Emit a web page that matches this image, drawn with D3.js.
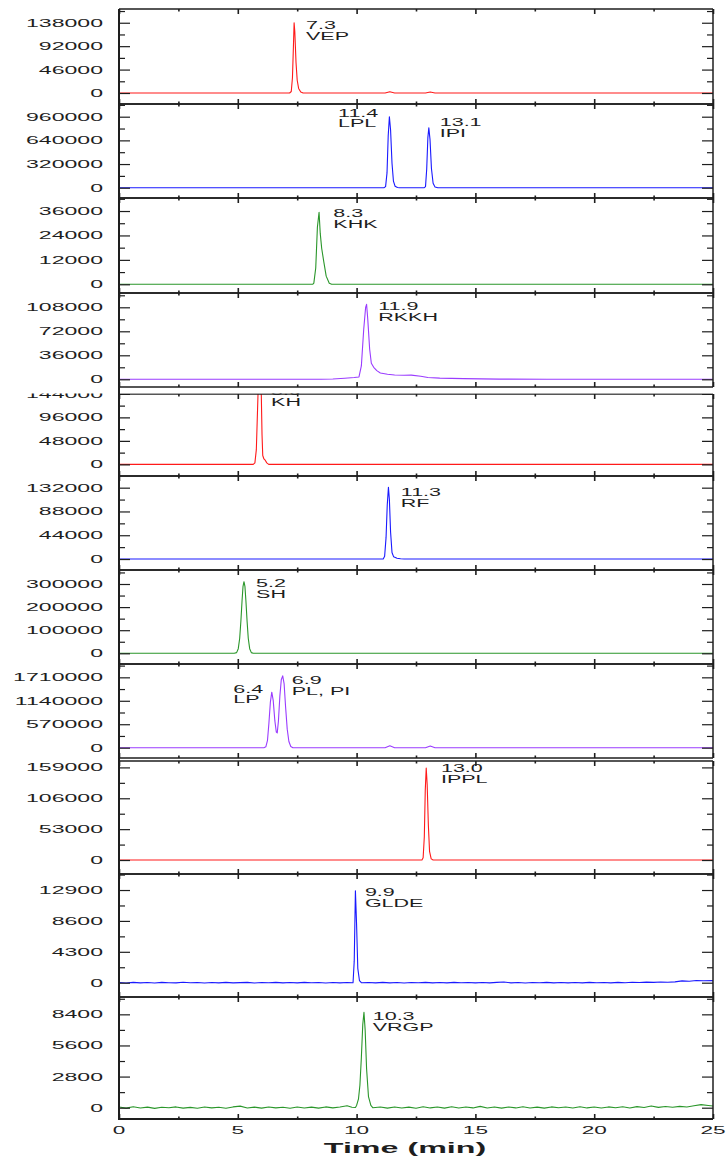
<!DOCTYPE html>
<html>
<head>
<meta charset="utf-8">
<script src="https://cdn.jsdelivr.net/npm/d3@7/dist/d3.min.js"></script>
<style>
  html, body { margin: 0; padding: 0; background: #fff; }
  svg { display: block; }
</style>
</head>
<body>
<svg id="chart" width="728" height="1160"></svg>
<script>
// ---------------- DATA ----------------
const xTicks = [0, 5, 10, 15, 20, 25];
const xMinorTicks = [2.5, 7.5, 12.5, 17.5, 22.5];
const xTitle = "Time (min)";

const seriesColors = ["#ff1a1a", "#1a1aff", "#2a962a", "#9a3cff", "#ff1a1a", "#1a1aff",
                      "#2a962a", "#9a3cff", "#ff1a1a", "#1a1aff", "#2a962a"];

const yDomains = [
  [-21600, 165000], [-139000, 1131700], [-4280, 42400], [-11550, 129450],
  [-23900, 144000], [-20300, 153600], [-46300, 360600], [-250900, 2034000],
  [-24000, 170000], [-1990, 15130], [-1017, 9960]
];

const yTickLabels = [
  [0, 46000, 92000, 138000],
  [0, 320000, 640000, 960000],
  [0, 12000, 24000, 36000],
  [0, 36000, 72000, 108000],
  [0, 48000, 96000, 144000],
  [0, 44000, 88000, 132000],
  [0, 100000, 200000, 300000],
  [0, 570000, 1140000, 1710000],
  [0, 53000, 106000, 159000],
  [0, 4300, 8600, 12900],
  [0, 2800, 5600, 8400]
];

// traces: [time (min), intensity]
const traceVEP = [[0,0],[7.18,0],[7.25,3000],[7.3,30000],[7.34,90000],[7.37,138000],[7.4,120000],
  [7.45,60000],[7.5,25000],[7.56,9000],[7.65,2000],[7.75,0],[11.2,0],[11.4,2500],[11.6,0],
  [12.9,0],[13.1,2000],[13.3,0],[25,0]];

const traceLPL = [[0,0],[11.15,0],[11.22,15000],[11.28,200000],[11.33,700000],[11.38,960000],
  [11.43,780000],[11.49,330000],[11.55,90000],[11.62,20000],[11.72,3000],[11.8,0],[12.85,0],
  [12.9,15000],[12.95,250000],[13.0,680000],[13.04,811000],[13.09,650000],[13.15,260000],
  [13.22,60000],[13.3,10000],[13.42,0],[25,0]];

const traceKHK = [[0,0],[8.15,0],[8.2,600],[8.28,8000],[8.35,28000],[8.42,35400],[8.47,25000],
  [8.53,17700],[8.62,11000],[8.72,4000],[8.85,500],[8.95,0],[25,0]];

const traceRKKH = [[0,0],[8.5,0],[9.0,500],[9.5,1500],[9.9,2600],[10.1,3500],[10.2,20000],
  [10.3,75000],[10.38,108000],[10.42,112500],[10.47,90000],[10.55,45000],[10.62,24000],
  [10.72,18000],[10.85,13000],[11.0,9500],[11.3,7500],[11.6,6400],[12.0,6000],[12.3,6200],
  [12.7,4500],[13.0,2600],[13.5,1800],[14.5,1000],[16,300],[18,0],[25,0]];

const traceKH = [[0,0],[5.65,0],[5.72,3000],[5.78,30000],[5.83,110000],[5.87,175000],[5.9,180000],
  [5.94,178000],[5.97,160000],[5.99,140000],[6.02,60000],[6.05,18000],[6.1,11000],[6.16,8000],
  [6.22,3000],[6.3,0],[25,0]];

const traceRF = [[0,0],[11.12,0],[11.18,5000],[11.24,40000],[11.29,100000],[11.34,132500],
  [11.38,110000],[11.43,50000],[11.49,12000],[11.56,4000],[11.7,1500],[11.85,500],[12,0],[25,0]];

const traceSH = [[0,0],[4.85,0],[4.95,3000],[5.02,20000],[5.08,65000],[5.13,140000],[5.18,230000],
  [5.22,290000],[5.26,310000],[5.3,290000],[5.34,230000],[5.39,140000],[5.44,65000],[5.5,20000],
  [5.57,3000],[5.65,0],[25,0]];

const traceLP = [[0,0],[6.1,0],[6.18,20000],[6.25,180000],[6.31,600000],[6.37,1100000],
  [6.43,1349000],[6.49,1150000],[6.56,650000],[6.62,380000],[6.66,360000],[6.71,650000],
  [6.77,1250000],[6.83,1650000],[6.89,1746000],[6.95,1550000],[7.01,1000000],[7.08,450000],
  [7.15,150000],[7.23,30000],[7.32,0],[11.2,0],[11.4,45000],[11.6,0],[12.9,0],[13.1,40000],
  [13.3,0],[25,0]];

const traceIPPL = [[0,0],[12.75,0],[12.8,4000],[12.85,40000],[12.89,120000],[12.93,158000],
  [12.97,130000],[13.02,60000],[13.07,15000],[13.14,2000],[13.22,0],[25,0]];

const traceGLDE = [[0,20],[0.3,-40],[0.6,50],[0.9,-20],[1.2,30],[1.5,-50],[1.8,40],[2.1,0],
  [2.4,-30],[2.7,60],[3.0,-10],[3.3,30],[3.6,-40],[3.9,20],[4.2,-20],[4.5,40],[4.8,-30],[5.1,10],
  [5.4,50],[5.7,-40],[6.0,20],[6.3,-10],[6.6,40],[6.9,-30],[7.2,30],[7.5,-20],[7.8,40],[8.1,-10],
  [8.4,30],[8.7,-40],[9.0,20],[9.3,-20],[9.6,30],[9.85,0],[9.9,3000],[9.95,12800],[10.0,8000],
  [10.05,2000],[10.12,300],[10.2,0],[10.5,30],[10.8,-30],[11.1,40],[11.4,-20],[11.7,20],
  [12.0,-40],[12.3,30],[12.6,-10],[12.9,50],[13.2,-20],[13.5,20],[13.8,-30],[14.1,40],[14.4,0],
  [14.7,30],[15.0,-30],[15.3,20],[15.6,-20],[15.9,40],[16.2,90],[16.5,-20],[16.8,30],[17.1,-40],
  [17.4,20],[17.7,-10],[18.0,40],[18.3,-30],[18.6,20],[18.9,-20],[19.2,30],[19.5,-30],[19.8,40],
  [20.1,-10],[20.4,30],[20.7,-20],[21.0,40],[21.3,0],[21.6,60],[21.9,20],[22.2,80],[22.5,40],
  [22.8,90],[23.1,60],[23.4,110],[23.7,260],[24.0,210],[24.3,310],[24.6,270],[25,290]];

const traceVRGP = [[0,60],[0.3,-40],[0.6,80],[0.9,-30],[1.2,50],[1.5,-60],[1.8,40],[2.1,-10],
  [2.4,70],[2.7,-40],[3.0,30],[3.3,-50],[3.6,60],[3.9,-20],[4.2,40],[4.5,-50],[4.8,70],[5.1,140],
  [5.4,-30],[5.7,50],[6.0,-40],[6.3,60],[6.6,-20],[6.9,40],[7.2,-50],[7.5,60],[7.8,-30],[8.1,50],
  [8.4,-40],[8.7,70],[9.0,-20],[9.3,60],[9.6,180],[9.8,40],[9.95,20],[10.0,200],[10.08,800],
  [10.14,2040],[10.2,4500],[10.26,7500],[10.31,8590],[10.36,7000],[10.42,3500],[10.5,1000],
  [10.6,200],[10.68,0],[11.0,60],[11.3,-40],[11.6,70],[11.9,-30],[12.2,50],[12.5,-50],[12.8,80],
  [13.1,-20],[13.4,60],[13.7,-40],[14.0,90],[14.3,-30],[14.6,60],[14.9,-20],[15.2,120],[15.5,-30],
  [15.8,70],[16.1,-40],[16.4,60],[16.7,-20],[17.0,80],[17.3,-30],[17.6,50],[17.9,-40],[18.2,70],
  [18.5,0],[18.8,60],[19.1,-30],[19.4,80],[19.7,-20],[20.0,60],[20.3,-30],[20.6,70],[20.9,0],
  [21.2,90],[21.5,-20],[21.8,100],[22.1,20],[22.4,160],[22.7,30],[23.0,110],[23.3,40],[23.6,120],
  [23.9,60],[24.2,170],[24.5,280],[24.8,200],[25,150]];

const traces = [traceVEP, traceLPL, traceKHK, traceRKKH, traceKH, traceRF,
                traceSH, traceLP, traceIPPL, traceGLDE, traceVRGP];

// peak annotations: [panel, time, intensity (first line baseline), line1, line2]
const peakLabels = [
  [0, 7.87, 125000, "7.3", "VEP"],
  [1, 9.22, 960000, "11.4", "LPL"],
  [1, 13.5, 834000, "13.1", "IPI"],
  [2, 9.02, 32950, "8.3", "KHK"],
  [3, 10.91, 104000, "11.9", "RKKH"],
  [4, 6.4, 141300, "5.9", "KH"],
  [5, 11.86, 116500, "11.3", "RF"],
  [6, 5.77, 285700, "5.2", "SH"],
  [7, 4.81, 1340000, "6.4", "LP"],
  [7, 7.27, 1552000, "6.9", "PL, PI"],
  [8, 13.55, 151000, "13.0", "IPPL"],
  [9, 10.35, 12065, "9.9", "GLDE"],
  [10, 10.68, 7900, "10.3", "VRGP"]
];

// ---------------- LAYOUT ----------------
const panelBoxes = [
  [9, 104], [104, 198], [198, 293], [293, 387], [394, 476], [476, 570],
  [570, 664], [664, 758], [761, 874], [874, 997], [997, 1119]
];
const clipTops = [0, 0, 0, 0, 393.5, 0, 0, 0, 0, 0, 0];
const X0 = 119, X1 = 713;
const FONT = "'Liberation Sans', Arial, sans-serif";
const ink = "#1e1e1e";

const svg = d3.select("#chart");
svg.append("rect").attr("width", 728).attr("height", 1160).attr("fill", "#fff");
const defs = svg.append("defs");

const x = d3.scaleLinear().domain([0, 25]).range([X0, X1]);

function stretchedText(sel, px, py, str, size, sx, anchor, weight) {
  return sel.append("text")
    .attr("transform", `translate(${px},${py}) scale(${sx},1)`)
    .attr("text-anchor", anchor || "start")
    .attr("font-family", FONT)
    .attr("font-size", size)
    .attr("font-weight", weight || "normal")
    .attr("fill", ink)
    .text(str);
}

panelBoxes.forEach((box, i) => {
  const [top, bottom] = box;
  const y = d3.scaleLinear().domain(yDomains[i]).range([bottom, top]);

  const gClipId = "pclip" + i;
  defs.append("clipPath").attr("id", gClipId).append("rect")
    .attr("x", 0).attr("y", clipTops[i] || 0).attr("width", 728).attr("height", 1160);
  const boxClipId = "bclip" + i;
  defs.append("clipPath").attr("id", boxClipId).append("rect")
    .attr("x", X0).attr("y", top).attr("width", X1 - X0).attr("height", bottom - top);

  const g = svg.append("g").attr("clip-path", `url(#${gClipId})`);

  // trace
  const line = d3.line().x(d => x(d[0])).y(d => y(d[1]));
  g.append("g").attr("clip-path", `url(#${boxClipId})`)
    .append("path")
    .datum(traces[i])
    .attr("d", line)
    .attr("fill", "none")
    .attr("stroke", seriesColors[i])
    .attr("stroke-width", 1.1)
    .attr("stroke-linejoin", "round");

  // y ticks (major + minor) on left and right, inward
  const major = yTickLabels[i];
  const step = major[1] - major[0];
  const [dmin, dmax] = yDomains[i];
  const minor = [];
  for (let k = Math.ceil((dmin - step / 2) / step); k * step + step / 2 <= dmax; k++) {
    const v = k * step + step / 2;
    if (v >= dmin) minor.push(v);
  }
  const majorAll = [];
  for (let k = Math.ceil(dmin / step); k * step <= dmax; k++) majorAll.push(k * step);

  const leftAxis = d3.axisRight(y).tickValues(majorAll).tickSize(11).tickFormat("");
  const leftMinor = d3.axisRight(y).tickValues(minor).tickSize(6).tickFormat("");
  const rightAxis = d3.axisLeft(y).tickValues(majorAll).tickSize(11).tickFormat("");
  const rightMinor = d3.axisLeft(y).tickValues(minor).tickSize(6).tickFormat("");
  [[leftAxis, X0], [leftMinor, X0], [rightAxis, X1], [rightMinor, X1]].forEach(([ax, px]) => {
    const a = g.append("g").attr("transform", `translate(${px},0)`).call(ax);
    a.select(".domain").remove();
    a.selectAll("line").attr("stroke", ink).attr("stroke-width", 1.2);
  });

  // x ticks top and bottom, inward
  const xb = d3.axisTop(x).tickValues(xTicks).tickSize(5).tickFormat("");
  const xbm = d3.axisTop(x).tickValues(xMinorTicks).tickSize(2.5).tickFormat("");
  const xt = d3.axisBottom(x).tickValues(xTicks).tickSize(5).tickFormat("");
  const xtm = d3.axisBottom(x).tickValues(xMinorTicks).tickSize(2.5).tickFormat("");
  [[xb, bottom], [xbm, bottom], [xt, top], [xtm, top]].forEach(([ax, py]) => {
    const a = g.append("g").attr("transform", `translate(0,${py})`).call(ax);
    a.select(".domain").remove();
    a.selectAll("line").attr("stroke", ink).attr("stroke-width", 1.6);
  });

  // y tick labels
  major.forEach(v => {
    stretchedText(g, 103, y(v) + 4, String(v), 11, 2.1, "end");
  });

  // frame
  g.append("line").attr("x1", X0).attr("x2", X1).attr("y1", top).attr("y2", top)
    .attr("stroke", ink).attr("stroke-width", 1.3);
  g.append("line").attr("x1", X0).attr("x2", X1).attr("y1", bottom).attr("y2", bottom)
    .attr("stroke", ink).attr("stroke-width", i === panelBoxes.length - 1 ? 2 : 1.3);
  g.append("line").attr("x1", X1).attr("x2", X1).attr("y1", top).attr("y2", bottom)
    .attr("stroke", ink).attr("stroke-width", 1.5);

  // peak labels
  peakLabels.filter(p => p[0] === i).forEach(p => {
    const px = x(p[1]), py = y(p[2]);
    stretchedText(g, px, py, p[3], 10, 2.15, "start");
    stretchedText(g, px, py + 10.7, p[4], 10, 2.15, "start");
  });
});

// continuous left axis line
svg.append("line").attr("x1", X0).attr("x2", X0).attr("y1", 9).attr("y2", 1120)
  .attr("stroke", ink).attr("stroke-width", 2);

// x tick labels
xTicks.forEach(t => {
  stretchedText(svg, x(t), 1134, String(t), 11, 2.05, "middle");
});

// x title
stretchedText(svg, 405, 1153, xTitle, 15, 2.15, "middle", "bold");
</script>
</body>
</html>
